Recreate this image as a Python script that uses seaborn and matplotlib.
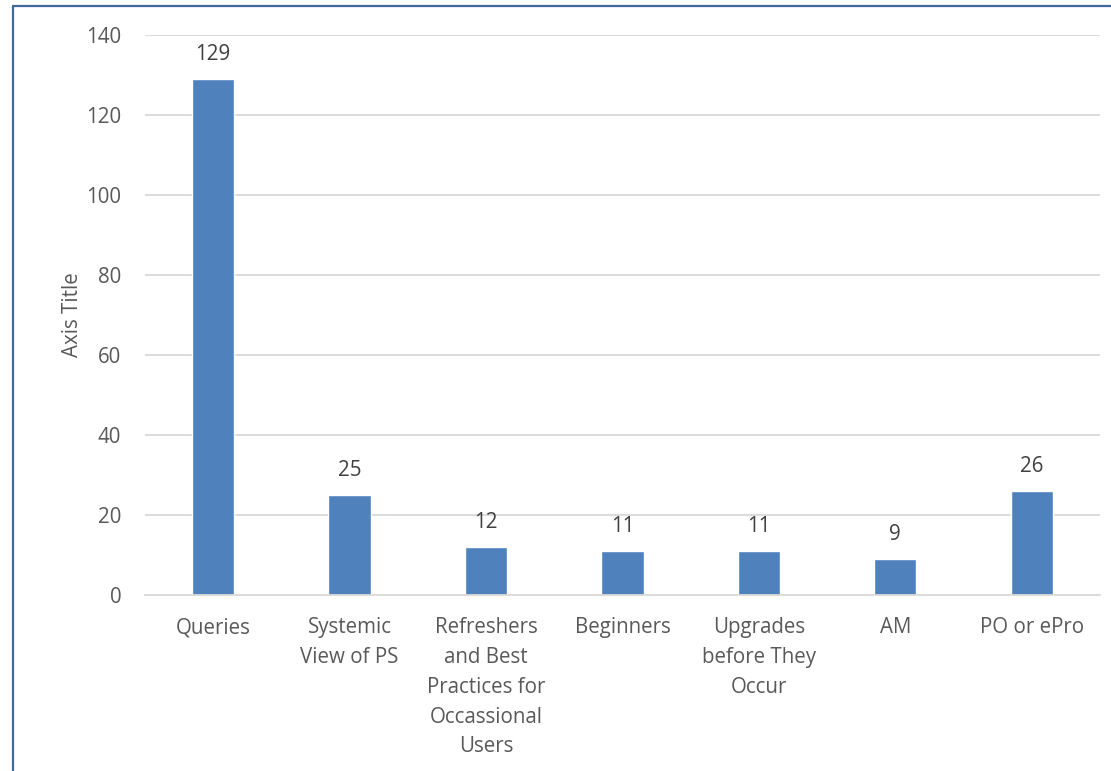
import matplotlib
matplotlib.use("Agg")
import matplotlib.pyplot as plt
import seaborn as sns
import pandas as pd
from matplotlib.lines import Line2D

categories = ["Queries", "Systemic\nView of PS",
              "Refreshers\nand Best\nPractices for\nOccassional\nUsers",
              "Beginners", "Upgrades\nbefore They\nOccur", "AM", "PO or ePro"]
counts = [129, 25, 12, 11, 11, 9, 26]
yticks = [0, 20, 40, 60, 80, 100, 120, 140]

df = pd.DataFrame({"cat": categories, "count": counts})

sns.set_style("white")
plt.rcParams['font.family'] = ['Open Sans', 'DejaVu Sans']

fig = plt.figure(figsize=(11.11, 7.71), dpi=100)
ax = fig.add_axes([0.1305, 0.2283, 0.8595, 0.7263])

sns.barplot(data=df, x="cat", y="count", color="#4f81bd", width=0.31,
            saturation=1, ax=ax)

ax.set_ylim(0, 140)
ax.set_yticks(yticks)
ax.set_xlim(-0.5, len(categories) - 0.5)
ax.yaxis.grid(True, color="#d9d9d9", linewidth=1.3)
ax.set_axisbelow(True)
for s in ["top", "right", "left"]:
    ax.spines[s].set_visible(False)
ax.spines["bottom"].set_color("#d9d9d9")
ax.spines["bottom"].set_linewidth(1.3)

fs = 14.8
ax.tick_params(axis="both", length=0, labelsize=fs, colors="#595959")
ax.tick_params(axis="x", pad=16)
ax.tick_params(axis="y", pad=17)
for lbl in ax.get_xticklabels():
    lbl.set_linespacing(1.55)
ax.set_xlabel("")
ax.set_ylabel("Axis Title", fontsize=fs, color="#595959", labelpad=2)

ax.bar_label(ax.containers[0], padding=10, fontsize=fs, color="#404040")

# chart border (top and left edges visible)
fig.add_artist(Line2D([0.0113, 0.0113], [0, 0.9922], transform=fig.transFigure,
                      color="#41699c", linewidth=1.6))
fig.add_artist(Line2D([0.0113, 1.0], [0.9922, 0.9922], transform=fig.transFigure,
                      color="#41699c", linewidth=1.6))

fig.savefig("out.png", dpi=100)
